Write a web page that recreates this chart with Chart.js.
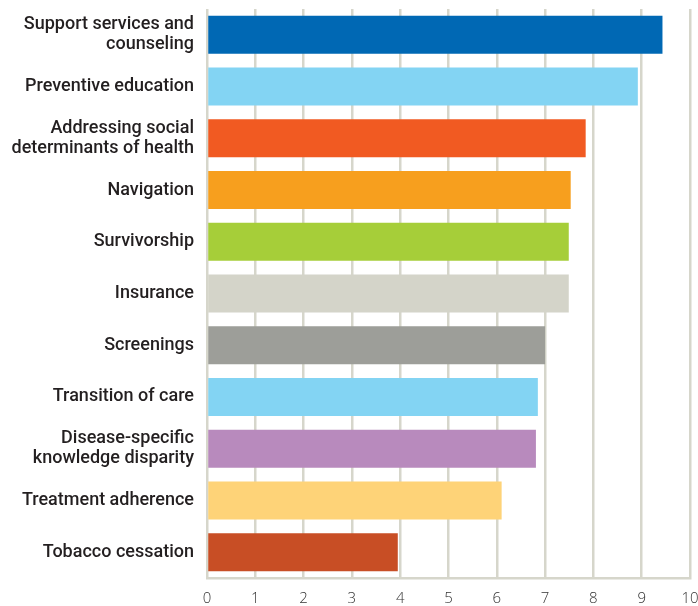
<!DOCTYPE html>
<html>
<head>
<meta charset="utf-8">
<script src="https://cdn.jsdelivr.net/npm/chart.js@4"></script>
<style>
  html, body { margin: 0; padding: 0; background: #fff; }
  #wrap { width: 698px; height: 606px; }
</style>
</head>
<body>
<div id="wrap"><canvas id="needsChart"></canvas></div>
<script>
const categories = [
  ['Support services and', 'counseling'],
  'Preventive education',
  ['Addressing social', 'determinants of health'],
  'Navigation',
  'Survivorship',
  'Insurance',
  'Screenings',
  'Transition of care',
  ['Disease-specific', 'knowledge disparity'],
  'Treatment adherence',
  'Tobacco cessation'
];
const scores = [9.43, 8.92, 7.84, 7.53, 7.49, 7.49, 7.0, 6.85, 6.81, 6.1, 3.95];
const barColors = [
  '#0068b4', '#83d4f3', '#f15a22', '#f79f1e', '#a6ce39', '#d4d4c9',
  '#9d9e99', '#83d4f3', '#b88abd', '#fed378', '#c84e25'
];
const xTicks = [0, 1, 2, 3, 4, 5, 6, 7, 8, 9, 10];

const gridColor = '#d6d6cb';

new Chart('needsChart', {
  type: 'bar',
  data: {
    labels: categories,
    datasets: [{
      data: scores,
      backgroundColor: barColors,
      borderWidth: 0,
      barPercentage: 0.735,
      categoryPercentage: 1
    }]
  },
  options: {
    indexAxis: 'y',
    responsive: true,
    maintainAspectRatio: false,
    animation: false,
    layout: { padding: { top: 9, right: 0, left: 0, bottom: 0 } },
    plugins: { legend: { display: false }, tooltip: { enabled: false } },
    scales: {
      x: {
        min: 0,
        max: 10,
        afterBuildTicks: (axis) => { axis.ticks = xTicks.map((v) => ({ value: v })); },
        afterFit: (axis) => {
          axis.height = 28;
          axis.paddingLeft = 0;
          axis.paddingRight = 8;
        },
        grid: { color: gridColor, lineWidth: 2.5, drawTicks: false },
        border: { color: gridColor, width: 2.5 },
        ticks: {
          padding: 12,
          color: '#333',
          font: { family: 'Open Sans', size: 15, weight: 300 }
        }
      },
      y: {
        grid: { display: false, drawTicks: false },
        border: { display: false },
        afterFit: (axis) => {
          axis.width = 207;
          axis.paddingTop = 0;
          axis.paddingBottom = 0;
        },
        ticks: {
          padding: 13,
          color: '#231f20',
          font: { family: 'Roboto', size: 18, weight: 500, lineHeight: 1.11 }
        }
      }
    }
  }
});
</script>
</body>
</html>
